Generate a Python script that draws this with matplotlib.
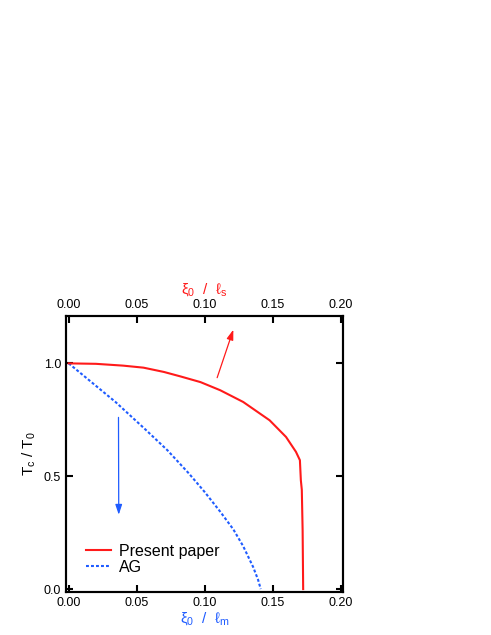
import matplotlib
matplotlib.use("Agg")
from matplotlib import pyplot as plt

# Present paper (top axis, xi0 / l_s)
present_x = [0, 0.02, 0.04, 0.055, 0.07, 0.0823, 0.0969, 0.1114, 0.1283, 0.1477,
             0.1598, 0.1671, 0.170, 0.1707, 0.1714, 0.172, 0.1724]
present_y = [1.0, 0.998, 0.99, 0.981, 0.962, 0.942, 0.917, 0.881, 0.829, 0.748,
             0.674, 0.608, 0.571, 0.482, 0.44, 0.26, 0.0]

# AG (bottom axis, xi0 / l_m)
ag_x = [0, 0.0344, 0.0557, 0.0726, 0.0884, 0.100, 0.1114, 0.121, 0.1283, 0.1356, 0.1392, 0.1412]
ag_y = [1.0, 0.829, 0.711, 0.615, 0.512, 0.43, 0.343, 0.265, 0.19, 0.098, 0.042, 0.0]

xticks = [0.0, 0.05, 0.10, 0.15, 0.20]
yticks = [0.0, 0.5, 1.0]

red = "#ff1a1a"
blue = "#1f5cff"

plt.rcParams['font.family'] = ['Liberation Sans', 'DejaVu Sans']
plt.rcParams['mathtext.fontset'] = 'custom'
plt.rcParams['mathtext.rm'] = 'Liberation Sans'
plt.rcParams['mathtext.it'] = 'Liberation Sans:italic'

fig = plt.figure(figsize=(4.91, 6.35), dpi=100)
ax = fig.add_axes([0.1344, 0.0677, 0.5642, 0.4347])
ax.set_xlim(-0.002, 0.2017)
ax.set_ylim(-0.013, 1.21)

ax.plot(ag_x, ag_y, color=blue, lw=1.5, linestyle=(0, (1.4, 1.0)), label="AG")
ax2 = ax.twiny()
ax2.set_xlim(ax.get_xlim())
ax2.plot(present_x, present_y, color=red, lw=1.5, label="Present paper")

# arrows
ax.annotate("", xy=(0.1217, 1.161), xytext=(0.1085, 0.925),
            arrowprops=dict(arrowstyle="-|>,head_length=0.6,head_width=0.2", color=red, lw=0.9))
ax.annotate("", xy=(0.0368, 0.317), xytext=(0.0366, 0.773),
            arrowprops=dict(arrowstyle="-|>,head_length=0.6,head_width=0.2", color=blue, lw=0.9))

for a in (ax, ax2):
    for s in a.spines.values():
        s.set_linewidth(1.5)
ax.set_xticks(xticks)
ax.set_xticklabels(["%.2f" % t for t in xticks])
ax.set_yticks(yticks)
ax.set_yticklabels(["%.1f" % t for t in yticks])
ax2.set_xticks(xticks)
ax2.set_xticklabels(["%.2f" % t for t in xticks])
ax.tick_params(direction='in', length=5, width=1.5, labelsize=9, right=True)
ax2.tick_params(direction='in', length=5, width=1.5, labelsize=9)

ax.set_xlabel(r"ξ$_0$  /  ℓ$_{\rm m}$", color=blue, fontsize=11, labelpad=1)
ax2.set_xlabel(r"ξ$_0$  /  ℓ$_{\rm s}$", color=red, fontsize=11, labelpad=4)
ax.set_ylabel(r"T$_{\rm c}$ / T$_0$", fontsize=11, labelpad=4)

h1, l1 = ax2.get_legend_handles_labels()
h2, l2 = ax.get_legend_handles_labels()
ax2.legend(h1 + h2, l1 + l2, loc='lower left', bbox_to_anchor=(0.02, 0.01),
           frameon=False, fontsize=11.5, handlelength=1.6, handletextpad=0.5,
           labelspacing=0.05)

fig.savefig("out.png", dpi=100)
